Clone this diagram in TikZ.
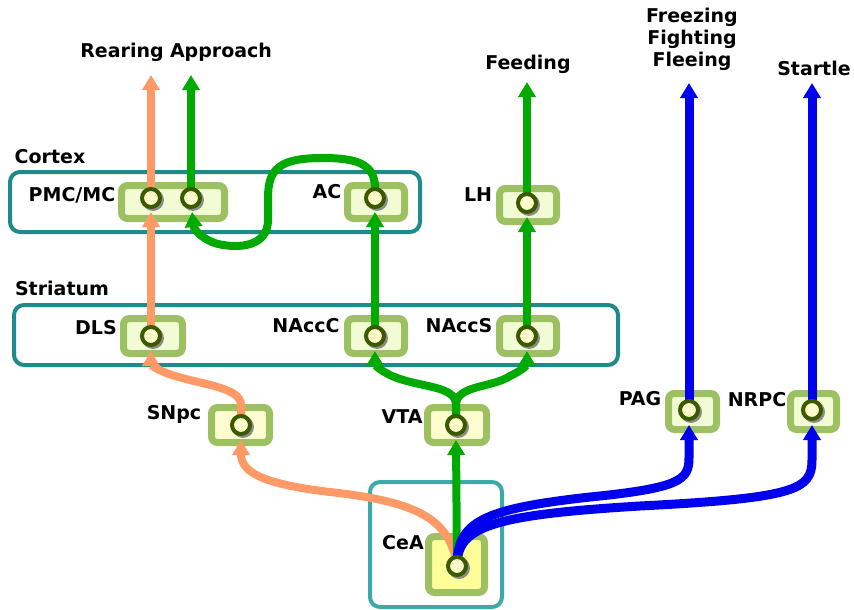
\documentclass[tikz,border=0pt]{standalone}
\usepackage{fontspec}
\setmainfont{DejaVu Sans}
\usetikzlibrary{arrows.meta}
\definecolor{regionteal}{HTML}{1E8A8A}
\definecolor{ceateal}{HTML}{3CAAAA}
\definecolor{boxedge}{HTML}{9CC062}
\definecolor{boxfill}{HTML}{F2FCD4}
\definecolor{midfill}{HTML}{FDFDD0}
\definecolor{ceafill}{HTML}{FFFF99}
\definecolor{ringcol}{HTML}{3B5A00}
\definecolor{somafill}{HTML}{FFFCCC}
\definecolor{pathorange}{HTML}{FF9966}
\definecolor{pathgreen}{HTML}{00AA00}
\definecolor{pathblue}{HTML}{0000EE}
\tikzset{
  region/.style={draw=regionteal, line width=4pt, rounded corners=10pt},
  nucleus/.style={draw=boxedge, fill=boxfill, line width=7pt, rounded corners=6pt},
  soma/.style={circle, draw=ringcol, fill=somafill, line width=4pt, minimum size=18pt, inner sep=0pt},
  somashadow/.style={circle, fill=black!45, minimum size=22pt, inner sep=0pt},
  lbl/.style={font=\bfseries\fontsize{19}{22}\selectfont, inner sep=0pt},
  proj/.style={line width=8pt, -{Triangle[length=15pt,width=17pt]}},
  orangep/.style={proj, draw=pathorange},
  greenp/.style={proj, draw=pathgreen},
  bluep/.style={proj, draw=pathblue, line width=9pt},
}
\begin{document}
\begin{tikzpicture}[x=1pt,y=-1pt]
\useasboundingbox (0,0) rectangle (854,610);

% brain regions
\draw[region] (10,172) rectangle (420,232);
\draw[region] (14,305) rectangle (618,365);
\draw[region, draw=ceateal] (370,482) rectangle (502,607);
\node[lbl] (lcortex) at (50,157) {Cortex};
\node[lbl] (lstriatum) at (62,288) {Striatum};

% nuclei
\draw[nucleus] (121.5,185.5) rectangle (224.5,218.5);
\draw[nucleus] (347.5,185.5) rectangle (404.5,218.5);
\draw[nucleus] (499.5,188.5) rectangle (556.5,221.5);
\draw[nucleus] (123.5,318.5) rectangle (182.5,353.5);
\draw[nucleus] (347.5,318.5) rectangle (404.5,353.5);
\draw[nucleus] (499.5,318.5) rectangle (556.5,353.5);
\draw[nucleus, fill=midfill] (211.5,407.5) rectangle (269.5,442.5);
\draw[nucleus, fill=midfill] (427.5,407.5) rectangle (486.5,442.5);
\draw[nucleus] (668.5,393.5) rectangle (716.5,429.5);
\draw[nucleus] (790.5,393.5) rectangle (836.5,429.5);
\draw[nucleus, fill=ceafill] (428.5,536.5) rectangle (484.5,592.5);

% region labels
\node[lbl] at (72,195) {PMC/MC};
\node[lbl] at (327,192) {AC};
\node[lbl] at (478,195) {LH};
\node[lbl] at (96,328) {DLS};
\node[lbl] at (306,326) {NAccC};
\node[lbl] at (459,326) {NAccS};
\node[lbl] at (174,414) {SNpc};
\node[lbl] at (402,417) {VTA};
\node[lbl] at (640,399) {PAG};
\node[lbl] at (757,400) {NRPC};
\node[lbl] at (403,543) {CeA};

% behaviour outputs
\node[lbl] (rear) at (122,52) {Rearing};
\node[lbl] (appr) at (221,52) {Approach};
\node[lbl] (feed) at (528,64) {Feeding};
\node[lbl, align=center] (fff) at (692,39) {Freezing\\Fighting\\Fleeing};
\node[lbl] (startle) at (814,68) {Startle};
\coordinate (rearT) at (151,75);
\coordinate (apprT) at (191,75);
\coordinate (feedT) at (527,82);
\coordinate (fffT) at (689,83);
\coordinate (startT) at (812,83);

% cell bodies (positions only, markers drawn last)
\coordinate (pmcA) at (151,198);
\coordinate (pmcB) at (191,198);
\coordinate (ac) at (375,198);
\coordinate (lh) at (527,203);
\coordinate (dls) at (151,336);
\coordinate (naccc) at (375,336);
\coordinate (naccs) at (527,336);
\coordinate (snpc) at (241,425);
\coordinate (vta) at (456,425);
\coordinate (pag) at (689,410);
\coordinate (nrpc) at (812,410);
\coordinate (cea) at (457,566);

% dopaminergic nigrostriatal route
\draw[orangep] (cea) .. controls (450,520) and (420,502) .. (330,492)
  .. controls (262,484) and (241,472) .. ([yshift=-15pt]snpc);
\draw[orangep] (snpc) -- (241,405) .. controls (241,388) and (205,385) .. (175,376)
  .. controls (153,369) and (151,364) .. ([yshift=-15pt]dls);
\draw[orangep] (dls) -- ([yshift=-14pt]pmcA);
\draw[orangep] (pmcA) -- (rearT);

% mesolimbic route
\draw[greenp] (cea) -- ([yshift=-15pt]vta);
\draw[greenp] (vta) -- (456,405) .. controls (456,385) and (420,388) .. (392,376)
  .. controls (377,369) and (375,364) .. ([yshift=-15pt]naccc);
\draw[greenp] (vta) -- (456,405) .. controls (456,385) and (492,388) .. (510,376)
  .. controls (525,369) and (527,364) .. ([yshift=-15pt]naccs);
\draw[greenp] (naccc) -- ([yshift=-14pt]ac);
\draw[greenp] (naccs) -- ([yshift=-14pt]lh);
\draw[greenp] (ac) -- (375,185) .. controls (373,163) and (355,158) .. (322,158)
  .. controls (278,158) and (268,170) .. (268,198) -- (268,220)
  .. controls (268,246) and (240,249) .. (218,244)
  .. controls (203,240) and (194,230) .. ([shift={(1pt,-14pt)}]pmcB);
\draw[greenp] (pmcB) -- (apprT);
\draw[greenp] (lh) -- (feedT);

% brainstem routes
\draw[bluep] (cea) .. controls (457,522) and (482,509) .. (590,497)
  .. controls (680,488) and (689,480) .. (689,458) -- ([yshift=-15pt]pag);
\draw[bluep] (cea) .. controls (457,527) and (490,515) .. (640,506)
  .. controls (795,498) and (812,490) .. (812,460) -- ([yshift=-15pt]nrpc);
\draw[bluep] (pag) -- (fffT);
\draw[bluep] (nrpc) -- (startT);

% cell body markers
\foreach \c in {pmcA,pmcB,ac,lh,dls,naccc,naccs,snpc,vta,pag,nrpc,cea} {
  \node[somashadow] at ([shift={(2pt,-2pt)}]\c) {};
  \node[soma] (s-\c) at (\c) {};
}
\end{tikzpicture}
\end{document}
